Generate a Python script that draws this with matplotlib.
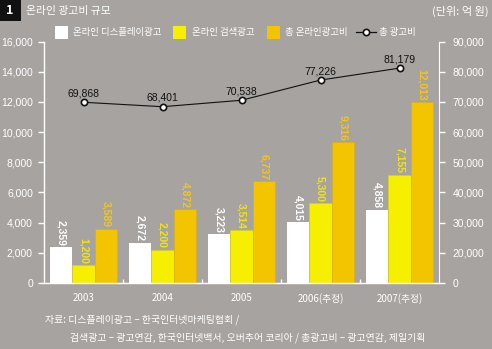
import matplotlib
matplotlib.use("Agg")
import matplotlib.pyplot as plt
from matplotlib.patches import Rectangle
from matplotlib.lines import Line2D
import numpy as np

plt.rcParams['font.family'] = ['Noto Sans CJK KR', 'DejaVu Sans']

categories = ['2003', '2004', '2005', '2006(추정)', '2007(추정)']
display_ad = [2359, 2672, 3223, 4015, 4858]
search_ad = [1200, 2200, 3514, 5300, 7155]
online_total = [3589, 4872, 6737, 9316, 12013]
total_ad = [69868, 68401, 70538, 77226, 81179]

series_names = ['온라인 디스플레이광고', '온라인 검색광고', '총 온라인광고비', '총 광고비']
left_ticks = [0, 2000, 4000, 6000, 8000, 10000, 12000, 14000, 16000]
right_ticks = [10000, 20000, 30000, 40000, 50000, 60000, 70000, 80000, 90000]
right_labels = ['0', '20,000', '30,000', '40,000', '50,000', '60,000', '70,000', '80,000', '90,000']

BG = '#a7a3a1'
WHITE = '#ffffff'
YELLOW = '#f6ef00'
ORANGE = '#f3c400'
NUMFONT = ['Liberation Sans', 'DejaVu Sans']

W, H = 492, 349
fig = plt.figure(figsize=(W / 100, H / 100), dpi=100, facecolor=BG)

L, R, T, B = 44, 439, 41.5, 283
ax = fig.add_axes([L / W, 1 - B / H, (R - L) / W, (B - T) / H])
ax.set_facecolor(BG)
ax.patch.set_alpha(0)

x = np.arange(len(categories))
bw = 0.285
ax.bar(x - bw, display_ad, bw, color=WHITE, zorder=2)
ax.bar(x, search_ad, bw, color=YELLOW, edgecolor='#d8cf10', linewidth=0.4, zorder=2)
ax.bar(x + bw, online_total, bw, color=ORANGE, edgecolor='#d9ad10', linewidth=0.4, zorder=2)

for vals, off, col in [(display_ad, -bw, WHITE), (search_ad, 0, '#f2e410'), (online_total, bw, '#f3c61a')]:
    for xi, v in zip(x, vals):
        ax.text(xi + off, v + 100, f'{v:,}', rotation=-90, ha='center', va='bottom',
                color=col, fontsize=7.5, family=NUMFONT, fontweight='bold', zorder=3)

ax.set_xlim(-0.5, len(categories) - 0.5)
ax.set_ylim(0, 16000)
ax.set_yticks(left_ticks)
ax.set_yticklabels([f'{t:,}' for t in left_ticks], color=WHITE, fontsize=7.5, family=NUMFONT)
ax.tick_params(axis='y', colors=WHITE, length=4, width=1, pad=4, labelcolor=WHITE)
ax.set_xticks(x)
ax.set_xticklabels(categories, color=WHITE, fontsize=7)
ax.tick_params(axis='x', length=0, pad=7)
ax.set_xticks(np.arange(0.5, len(categories) - 0.5, 1), minor=True)
ax.tick_params(axis='x', which='minor', direction='in', length=3, width=1, colors=WHITE)
for s in ['top', 'right']:
    ax.spines[s].set_visible(False)
ax.spines['left'].set_color(WHITE)
ax.spines['bottom'].set_color(WHITE)
ax.spines['left'].set_linewidth(1)
ax.spines['bottom'].set_linewidth(1)

ax2 = ax.twinx()
ax2.set_ylim(10000, 90000)
ax2.set_yticks(right_ticks)
ax2.set_yticklabels(right_labels, color=WHITE, fontsize=7.5, family=NUMFONT)
ax2.tick_params(axis='y', colors=WHITE, length=4, width=1, pad=6, labelcolor=WHITE)
for s in ['top', 'left', 'bottom']:
    ax2.spines[s].set_visible(False)
ax2.spines['right'].set_color(WHITE)
ax2.plot(x, total_ad, color='#111111', lw=0.8, marker='o', ms=4.5,
         mfc=WHITE, mec='#111111', mew=1.2, zorder=4)
for xi, v in zip(x, total_ad):
    ax2.text(xi, v + 1300, f'{v:,}', ha='center', va='bottom', color='#111111',
             fontsize=7.5, family=NUMFONT, zorder=5)

# Header
fig.patches.append(Rectangle((0, 1 - 21 / H), 21 / W, 21 / H, transform=fig.transFigure,
                             facecolor='#111111', edgecolor='none'))
fig.text(10 / W, 1 - 11 / H, '1', color=WHITE, fontsize=9, fontweight='bold',
         ha='center', va='center')
fig.text(26 / W, 1 - 11 / H, '온라인 광고비 규모', color=WHITE, fontsize=7.8,
         ha='left', va='center')
fig.text(489 / W, 1 - 11 / H, '(단위: 억 원)', color=WHITE, fontsize=8,
         ha='right', va='center')

# Legend
ly = 1 - 32 / H
sq = 13
for (x0, col), tx, name in zip([(55, WHITE), (173, YELLOW), (267, ORANGE)], [73, 192, 285], series_names[:3]):
    fig.patches.append(Rectangle((x0 / W, 1 - 39 / H), sq / W, sq / H, transform=fig.transFigure,
                                 facecolor=col, edgecolor='none'))
    fig.text(tx / W, ly, name, color=WHITE, fontsize=6.8, ha='left', va='center')
fig.lines.append(Line2D([356 / W, 376 / W], [ly, ly], transform=fig.transFigure, color='#111111',
                        lw=0.9))
fig.lines.append(Line2D([366 / W], [ly], transform=fig.transFigure, color='#111111', lw=0,
                        marker='o', ms=4.5, mfc=WHITE, mec='#111111', mew=1.2))
fig.text(379 / W, ly, series_names[3], color=WHITE, fontsize=6.8, ha='left', va='center')

# Source
fig.text(45 / W, 1 - 320 / H, '자료: 디스플레이광고 – 한국인터넷마케팅협회 /', color=WHITE,
         fontsize=7.1, ha='left', va='center')
fig.text(70 / W, 1 - 338 / H, '검색광고 – 광고연감, 한국인터넷백서, 오버추어 코리아 / 총광고비 – 광고연감, 제일기획',
         color=WHITE, fontsize=7.1, ha='left', va='center')

fig.savefig('out.png', dpi=100, facecolor=BG)
